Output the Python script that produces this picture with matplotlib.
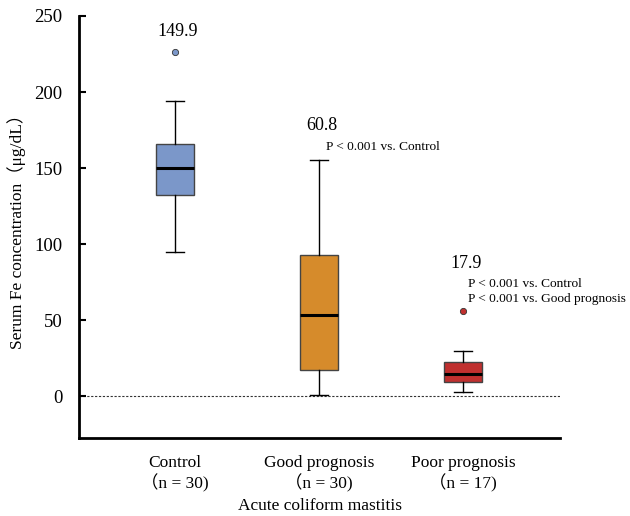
import matplotlib
matplotlib.use('Agg')
import matplotlib.pyplot as plt

plt.rcParams['font.family'] = ['Liberation Serif', 'Noto Sans CJK JP']

groups = ['Control\n（n = 30)', 'Good prognosis\n（n = 30)', 'Poor prognosis\n（n = 17)']
whislo = [95, 1, 3]
q1 = [132, 17, 9.5]
med = [150, 53.5, 14.5]
q3 = [166, 92.5, 22.5]
whishi = [194, 155, 30]
fliers = [[226], [], [56]]
means = ['149.9', '60.8', '17.9']
pvals = ['', 'P < 0.001 vs. Control', 'P < 0.001 vs. Control\nP < 0.001 vs. Good prognosis']
colors = ['#7b97c9', '#d68b2b', '#c0302f']

stats = []
for i in range(3):
    stats.append(dict(whislo=whislo[i], q1=q1[i], med=med[i], q3=q3[i],
                      whishi=whishi[i], fliers=fliers[i]))

fig = plt.figure(figsize=(6.3, 5.16), dpi=100)
ax = fig.add_axes([0.1254, 0.151, 0.7635, 0.818])

bp = ax.bxp(stats, positions=[1, 2, 3], widths=0.26, patch_artist=True,
            showfliers=True,
            boxprops=dict(edgecolor='#444444', linewidth=1.0),
            medianprops=dict(color='black', linewidth=2.2),
            whiskerprops=dict(color='black', linewidth=1.0),
            capprops=dict(color='black', linewidth=1.0),
            flierprops=dict(marker='o', markersize=4.5, markeredgecolor='#333333',
                            markeredgewidth=0.6))
for patch, c in zip(bp['boxes'], colors):
    patch.set_facecolor(c)
for fl, c in zip(bp['fliers'], colors):
    fl.set_markerfacecolor(c)

ax.axhline(0, color='#333333', linestyle=(0, (2, 1.5)), linewidth=0.8, zorder=0)

# mean labels and p-values
mean_y = [240, 178, 87]
for i in range(3):
    ax.text(i + 1.02, mean_y[i], means[i], ha='center', va='center', fontsize=13)
ax.text(2.05, 164, pvals[1], ha='left', va='center', fontsize=9.6)
ax.text(3.035, 69, pvals[2], ha='left', va='center', fontsize=9.6, linespacing=1.35)

ax.set_xlim(0.333, 3.674)
ax.set_ylim(-27.6, 250)
ax.set_yticks([0, 50, 100, 150, 200, 250])
ax.set_xticks([1, 2, 3])
ax.set_xticklabels(groups, fontsize=12.5, linespacing=1.25)
ax.tick_params(axis='x', length=0, pad=12)
ax.tick_params(axis='y', direction='in', length=5, width=1.5, labelsize=13.5, pad=12)

ax.spines['top'].set_visible(False)
ax.spines['right'].set_visible(False)
ax.spines['left'].set_linewidth(2)
ax.spines['bottom'].set_linewidth(2)

ax.set_ylabel('Serum Fe concentration（μg/dL）', fontsize=12.5, labelpad=6)
ax.set_xlabel('Acute coliform mastitis', fontsize=12.5, labelpad=4)

fig.savefig('out.png')
